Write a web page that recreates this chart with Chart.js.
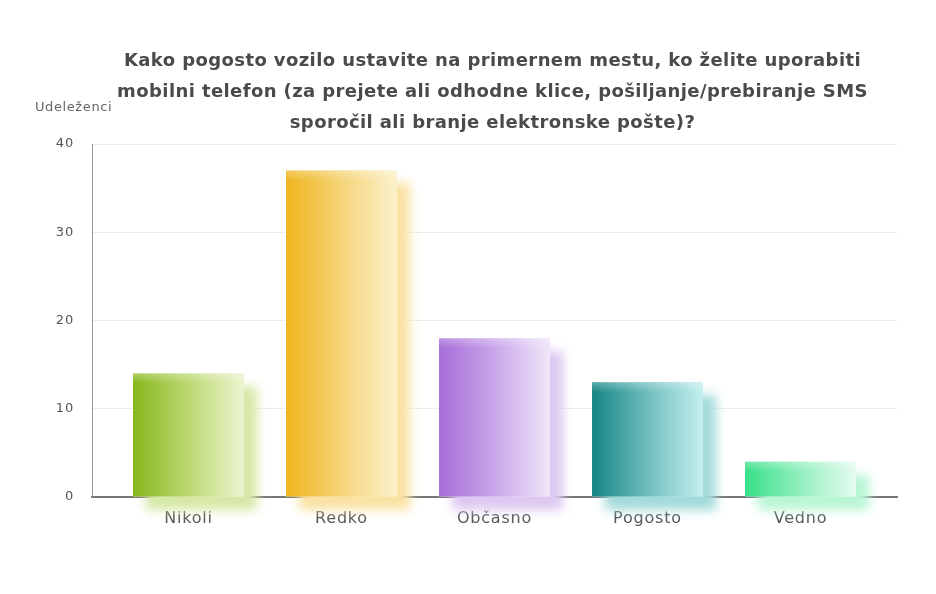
<!DOCTYPE html>
<html>
<head>
<meta charset="utf-8">
<script src="https://cdn.jsdelivr.net/npm/chart.js@4"></script>
<style>
  html, body { margin: 0; padding: 0; background: #fff; }
  #wrap { width: 936px; height: 594px; }
</style>
</head>
<body>
<div id="wrap"><canvas id="chart" width="936" height="594"></canvas></div>
<script>
// data
const titleLines = [
  "Kako pogosto vozilo ustavite na primernem mestu, ko želite uporabiti",
  "mobilni telefon (za prejete ali odhodne klice, pošiljanje/prebiranje SMS",
  "sporočil ali branje elektronske pošte)?"
];
const yAxisTitle = "Udeleženci";
const categories = ["Nikoli", "Redko", "Občasno", "Pogosto", "Vedno"];
const values = [14, 37, 18, 13, 4];
const yMax = 40;
const yStep = 10;

// colours per bar: left (dark) -> right (light), plus the shadow tone
const darkColors   = ["#86b71c", "#f0b41e", "#a66dd8", "#158585", "#36e088"];
const midColors    = ["#bcd872", "#f5d57a", "#c9a6ea", "#6fbebe", "#93efbf"];
const lightColors  = ["#ebf4cf", "#fcf1cc", "#f0e6f8", "#c4efef", "#e6fcf0"];
const shadowColors = ["#d6e8a6", "#f9e2a2", "#dcc8f1", "#a3dada", "#b8f6d4"];

const BAR_PCT = 0.725;
const SIDE_PAD = 20 / 153; // empty room at both ends, in category units

function barGradient(context) {
  const chart = context.chart;
  const i = context.dataIndex;
  if (!chart.chartArea || i === undefined) return darkColors[i || 0];
  const xs = chart.scales.x;
  const cx = xs.getPixelForValue(i);
  const half = (xs.getPixelForValue(1) - xs.getPixelForValue(0)) * BAR_PCT / 2;
  const g = chart.ctx.createLinearGradient(cx - half, 0, cx + half, 0);
  g.addColorStop(0, darkColors[i]);
  g.addColorStop(0.5, midColors[i]);
  g.addColorStop(1, lightColors[i]);
  return g;
}

// soft coloured shadow behind every bar
const barShadow = {
  id: "barShadow",
  beforeDraw(chart) {
    chart.ctx.letterSpacing = "0.8px";
  },
  beforeDatasetsDraw(chart) {
    const ctx = chart.ctx;
    chart.getDatasetMeta(0).data.forEach((bar, i) => {
      const { x, y, base, width } = bar.getProps(["x", "y", "base", "width"], true);
      ctx.save();
      ctx.shadowColor = shadowColors[i];
      ctx.shadowBlur = 10;
      ctx.shadowOffsetX = 13;
      ctx.shadowOffsetY = 13;
      ctx.fillStyle = lightColors[i];
      ctx.fillRect(x - width / 2, y, width, base - y);
      ctx.restore();
    });
  },
  afterDatasetsDraw(chart) {
    // light band along the top of each bar
    const ctx = chart.ctx;
    chart.getDatasetMeta(0).data.forEach((bar) => {
      const { x, y, width } = bar.getProps(["x", "y", "width"], true);
      const g = ctx.createLinearGradient(0, y, 0, y + 10);
      g.addColorStop(0, "rgba(255,255,255,0.3)");
      g.addColorStop(1, "rgba(255,255,255,0)");
      ctx.save();
      ctx.fillStyle = g;
      ctx.fillRect(x - width / 2, y, width, 10);
      ctx.restore();
    });
  }
};

// title lines and the small axis caption
const texts = {
  id: "texts",
  afterDraw(chart) {
    const ctx = chart.ctx;
    const area = chart.chartArea;
    const cx = (area.left + area.right) / 2;
    ctx.save();
    ctx.fillStyle = "#4a4a4a";
    ctx.font = "bold 18px 'DejaVu Sans'";
    ctx.letterSpacing = "0.4px";
    ctx.textAlign = "center";
    ctx.textBaseline = "middle";
    titleLines.forEach((line, k) => ctx.fillText(line, cx - 2, 61 + k * 31));
    ctx.fillStyle = "#666";
    ctx.font = "13px 'DejaVu Sans'";
    ctx.letterSpacing = "0.6px";
    ctx.textAlign = "left";
    ctx.fillText(yAxisTitle, 35, 108);
    ctx.restore();
  }
};

new Chart(document.getElementById("chart"), {
  type: "bar",
  data: {
    datasets: [{
      data: values.map((v, i) => ({ x: i, y: v })),
      backgroundColor: barGradient,
      borderWidth: 0,
      barPercentage: BAR_PCT,
      categoryPercentage: 1
    }]
  },
  options: {
    responsive: false,
    animation: false,
    layout: { padding: { left: 42, right: 39, top: 144, bottom: 0 } },
    plugins: { legend: { display: false }, tooltip: { enabled: false } },
    scales: {
      x: {
        type: "linear",
        offset: false,
        min: -0.5 - SIDE_PAD,
        max: categories.length - 0.5 + SIDE_PAD,
        afterFit(scale) { scale.height = 97; },
        grid: { display: false },
        border: { display: true, color: "#777", width: 2 },
        ticks: {
          stepSize: 1,
          includeBounds: false,
          autoSkip: false,
          maxRotation: 0,
          padding: 4,
          color: "#555",
          font: { family: "'DejaVu Sans'", size: 16 },
          callback: (v) => categories[v] !== undefined ? categories[v] : ""
        }
      },
      y: {
        min: 0,
        max: yMax,
        afterFit(scale) { scale.width = 50; },
        grid: { color: "#ececec", drawTicks: false },
        border: { display: true, color: "#999", width: 1 },
        ticks: {
          stepSize: yStep,
          padding: 18,
          color: "#555",
          font: { family: "'DejaVu Sans'", size: 13 }
        }
      }
    }
  },
  plugins: [barShadow, texts]
});
</script>
</body>
</html>
